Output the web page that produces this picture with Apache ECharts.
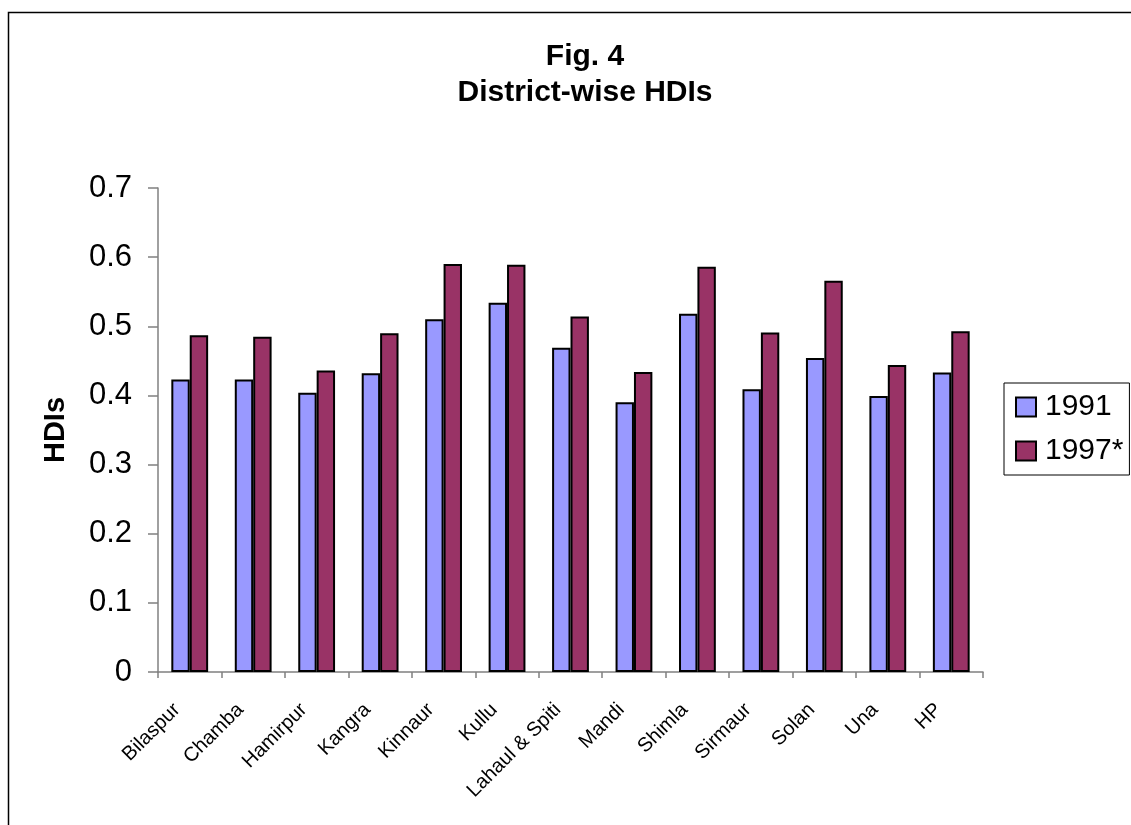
<!DOCTYPE html>
<html><head><meta charset="utf-8">
<script src="https://cdn.jsdelivr.net/npm/echarts@6/dist/echarts.min.js"></script>
<style>html,body{margin:0;padding:0;background:#fff}#c{width:1131px;height:825px}</style>
</head><body><div id="c"></div>
<script>
const categories = ['Bilaspur','Chamba','Hamirpur','Kangra','Kinnaur','Kullu','Lahaul & Spiti','Mandi','Shimla','Sirmaur','Solan','Una','HP'];
const hdi1991 = [0.423,0.423,0.404,0.432,0.510,0.534,0.469,0.390,0.518,0.409,0.454,0.399,0.433];
const hdi1997 = [0.487,0.485,0.436,0.490,0.590,0.589,0.514,0.434,0.586,0.491,0.566,0.444,0.493];
const yTicks = [0, 0.7, 0.1];

const chart = echarts.init(document.getElementById('c'));
const font = 'Arial, "Liberation Sans", sans-serif';
chart.setOption({
  animation: false,
  backgroundColor: '#fff',
  graphic: [{type:'rect', shape:{x:8.5,y:12.5,width:1140,height:840}, style:{fill:'none',stroke:'#000',lineWidth:1.5}, z:-1}],
  title: {
    text: 'Fig. 4\nDistrict-wise HDIs',
    left: 580, top: 34, textAlign: 'center',
    textStyle: {fontFamily: font, fontSize: 30, fontWeight: 'bold', color: '#000', lineHeight: 36}
  },
  legend: {
    orient: 'vertical', left: 1004, top: 383,
    itemWidth: 20, itemHeight: 19, itemGap: 14,
    icon: 'rect',
    padding: [9, 6, 9, 11],
    borderColor: '#000', borderWidth: 1,
    textStyle: {fontFamily: font, fontSize: 30, color: '#000', padding:[0,0,0,4]},
    data: ['1991','1997*']
  },
  grid: {left: 158, right: 148, top: 188, bottom: 153},
  xAxis: {
    type: 'category', data: categories,
    axisLine: {lineStyle: {color: '#808080', width: 1.5}},
    axisTick: {show: true, length: 6, lineStyle: {color: '#808080', width: 1.5}},
    axisLabel: {rotate: 45, fontFamily: font, fontSize: 20, color: '#000', margin: 22, interval: 0,
      padding: [0, 18, 0, 0]}
  },
  yAxis: {
    type: 'value', min: yTicks[0], max: yTicks[1], interval: yTicks[2],
    name: 'HDIs', nameLocation: 'middle', nameGap: 88, nameRotate: 90,
    nameTextStyle: {fontFamily: font, fontSize: 29, fontWeight: 'bold', color: '#000'},
    axisLine: {show: true, lineStyle: {color: '#808080', width: 1.5}},
    axisTick: {show: true, length: 10, lineStyle: {color: '#808080', width: 1.5}},
    splitLine: {show: false},
    axisLabel: {fontFamily: font, fontSize: 31, color: '#000', margin: 26,
      formatter: v => (Math.round(v*10)/10).toString()}
  },
  series: [
    {name: '1991', type: 'bar', data: hdi1991, barGap: '0%', barCategoryGap: '42%',
     itemStyle: {color: '#9999FF', borderColor: '#000', borderWidth: 2}},
    {name: '1997*', type: 'bar', data: hdi1997,
     itemStyle: {color: '#993366', borderColor: '#000', borderWidth: 2}}
  ]
});
</script></body></html>
